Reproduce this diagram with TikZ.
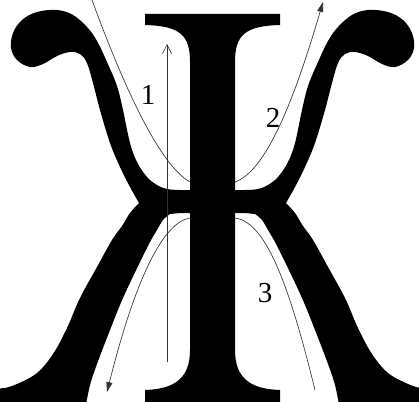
\documentclass[tikz,border=0pt]{standalone}
\usepackage{fontspec}
\setmainfont{Liberation Serif}
\usetikzlibrary{arrows.meta}
\begin{document}
\begin{tikzpicture}[x=1pt,y=-1pt,
  lbl/.style={inner sep=0pt,font=\fontsize{29}{29}\selectfont},
  curve/.style={draw=black!80,line width=0.65pt},
  filltip/.style={-{Triangle[length=10pt,width=6pt]}},
  opentip/.style={-{Straight Barb[length=9pt,width=9pt]}},
  ink/.style={fill=black}]
\useasboundingbox (0,0) rectangle (419,401);
\def\zhehalf{%
  \fill[ink] (139,203)
   -- plot[smooth,tension=0.6] coordinates {(139,203) (130,187) (120,167) (110,143) (100,110) (93,83) (87,63) (80,54) (70,52) (57,56) (43,64) (30,67) (17,60) (11,48) (13,33) (22,20) (37,12) (57,10) (73,15) (87,27) (97,41) (107,62) (117,86) (123,110) (130,143) (137,162) (147,177) (157,185) (167,189) (180,190) (191,190)}
   -- (191,213) -- (180,213)
   -- plot[smooth,tension=0.6] coordinates {(170,214) (163,220) (157,230) (150,242) (140,262) (123,298) (110,330) (97,364) (90,385) (86,405)}
   -- (-8,405) -- (-8,389)
   -- plot[smooth,tension=0.6] coordinates {(5,388) (17,384) (37,373) (53,354) (67,328) (80,298) (97,267) (112,240) (122,226) (130,213) (139,203)}
   -- cycle;}
\begin{scope}
\clip (0,0) rectangle (419,401);
\zhehalf
\begin{scope}[shift={(425,0)},xscale=-1]
\zhehalf
\end{scope}
\fill[ink] (145,14) -- (280,14) -- (280,25)
  .. controls (245,26) and (235,35) .. (235,62) -- (235,350)
  .. controls (235,378) and (250,389) .. (280,390) -- (280,405) -- (145,405) -- (145,390)
  .. controls (175,389) and (190,378) .. (190,350) -- (190,62)
  .. controls (190,35) and (180,26) .. (145,25) -- cycle;
\end{scope}
\coordinate (a1) at (167,362);
\coordinate (a2) at (167,44);
\coordinate (b1) at (92,0);
\coordinate (b2) at (190,182);
\coordinate (c1) at (235,182);
\coordinate (c2) at (323,2);
\coordinate (d1) at (235,218);
\coordinate (d2) at (315,390);
\coordinate (e1) at (190,218);
\coordinate (e2) at (107,392);
\draw[curve,opentip] (a1) -- (a2);
\draw[curve] (b1) .. controls (125,90) and (160,165) .. (b2);
\draw[curve,filltip] (c1) .. controls (270,170) and (300,80) .. (c2);
\draw[curve] (d1) .. controls (265,222) and (288,280) .. (d2);
\draw[curve,filltip] (e1) .. controls (163,222) and (135,280) .. (e2);
\node[lbl] (n1) at (148,95) {1};
\node[lbl] (n2) at (273,118) {2};
\node[lbl] (n3) at (265,293) {3};
\end{tikzpicture}
\end{document}
